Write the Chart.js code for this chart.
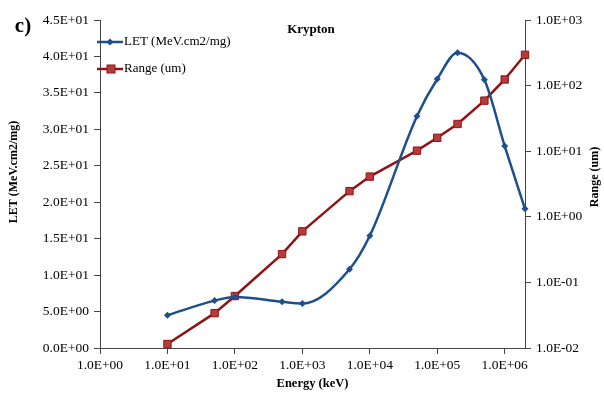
<!DOCTYPE html>
<html>
<head>
<meta charset="utf-8">
<script src="https://cdn.jsdelivr.net/npm/chart.js@4/dist/chart.umd.min.js"></script>
<style>
  html, body { margin: 0; padding: 0; background: #fff; }
  #wrap { width: 604px; height: 396px; }
</style>
</head>
<body>
<div id="wrap"><canvas id="myChart" width="604" height="396"></canvas></div>
<script>
// energy in keV
var energy = [10, 50, 100, 500, 1000, 5000, 10000, 50000, 100000, 200000, 500000, 1000000, 2000000];
// LET (MeV.cm2/mg)
var letValues = [4.5, 6.5, 7.0, 6.35, 6.1, 10.8, 15.4, 31.8, 36.9, 40.5, 36.8, 27.7, 19.1];
// Range (um)
var rangeValues = [0.0115, 0.034, 0.062, 0.27, 0.6, 2.46, 4.1, 10.2, 16, 26, 59, 124, 295];

var xTicks = [1, 10, 100, 1000, 10000, 100000, 1000000];
var rangeTicks = [0.01, 0.1, 1, 10, 100, 1000];

var serif = "'Liberation Serif', 'DejaVu Serif', serif";
var blue = '#1c4f8c';
var darkRed = '#8e1414';

function sci(v) {
    var parts = Number(v).toExponential(1).split('e');
    var n = parseInt(parts[1], 10);
    return parts[0] + 'E' + (n < 0 ? '-' : '+') + String(Math.abs(n)).padStart(2, '0');
}

function pts(ys) {
    return energy.map(function(x, i) { return { x: x, y: ys[i] }; });
}

var extras = {
    id: 'extras',
    afterDraw: function(chart) {
        var c = chart.ctx;
        c.save();
        c.fillStyle = '#000';
        c.textAlign = 'center';
        c.textBaseline = 'middle';

        c.font = 'bold 21px ' + serif;
        c.fillText('c)', 23, 27);

        c.font = 'bold 13px ' + serif;
        c.fillText('Krypton', 311, 30);

        // y axis titles
        c.font = 'bold 12px ' + serif;
        c.save();
        c.translate(14, 172);
        c.rotate(-Math.PI / 2);
        c.fillText('LET (MeV.cm2/mg)', 0, 0);
        c.restore();
        c.save();
        c.translate(595, 177);
        c.rotate(-Math.PI / 2);
        c.fillText('Range (um)', 0, 0);
        c.restore();

        // legend
        c.textAlign = 'left';
        c.font = '13px ' + serif;
        c.lineWidth = 2.5;
        c.strokeStyle = blue;
        c.beginPath(); c.moveTo(97, 42); c.lineTo(123, 42); c.stroke();
        c.fillStyle = blue;
        c.beginPath(); c.moveTo(110, 38.5); c.lineTo(113.5, 42); c.lineTo(110, 45.5); c.lineTo(106.5, 42); c.closePath(); c.fill();
        c.fillStyle = '#000';
        c.fillText('LET (MeV.cm2/mg)', 124, 42);

        c.strokeStyle = darkRed;
        c.beginPath(); c.moveTo(97, 69); c.lineTo(123, 69); c.stroke();
        c.fillStyle = '#b83a3a';
        c.fillRect(107, 65, 8, 8);
        c.lineWidth = 1;
        c.strokeStyle = darkRed;
        c.strokeRect(107, 65, 8, 8);
        c.fillStyle = '#000';
        c.fillText('Range (um)', 124, 69);
        c.restore();
    }
};

var ctx = document.getElementById('myChart');

var myChart = new Chart(ctx, {
    type: 'line',
    data: {
        datasets: [{
            label: 'LET (MeV.cm2/mg)',
            data: pts(letValues),
            yAxisID: 'y',
            borderColor: blue,
            backgroundColor: blue,
            borderWidth: 2.5,
            cubicInterpolationMode: 'monotone',
            pointStyle: 'rectRot',
            pointRadius: 3.5,
            pointBorderWidth: 0,
            clip: false
        }, {
            label: 'Range (um)',
            data: pts(rangeValues),
            yAxisID: 'y2',
            borderColor: darkRed,
            backgroundColor: '#b83a3a',
            borderWidth: 2.5,
            tension: 0,
            pointStyle: 'rect',
            pointRadius: 5.2,
            pointBorderColor: darkRed,
            pointBorderWidth: 1,
            clip: false
        }]
    },
    options: {
        responsive: false,
        animation: false,
        layout: { padding: { top: 20, left: 0, right: 0, bottom: 0 } },
        plugins: {
            legend: { display: false },
            tooltip: { enabled: false }
        },
        scales: {
            x: {
                type: 'logarithmic',
                position: 'bottom',
                min: 1,
                max: 2000000,
                afterBuildTicks: function(scale) {
                    scale.ticks = xTicks.map(function(v) { return { value: v }; });
                },
                afterFit: function(scale) { scale.height = 48; },
                grid: { drawOnChartArea: false, tickLength: 6, color: '#444' },
                border: { color: '#444', width: 1 },
                ticks: {
                    color: '#000',
                    padding: 3,
                    maxRotation: 0,
                    autoSkip: false,
                    font: { family: serif, size: 13.5 },
                    callback: function(v) { return sci(v); }
                },
                title: {
                    display: true,
                    text: 'Energy (keV)',
                    color: '#000',
                    font: { family: serif, size: 12.5, weight: 'bold' },
                    padding: { top: 0, bottom: 5 }
                }
            },
            y: {
                type: 'linear',
                position: 'left',
                min: 0,
                max: 45,
                afterFit: function(scale) { scale.width = 100; },
                grid: { drawOnChartArea: false, tickLength: 6, color: '#444' },
                border: { color: '#444', width: 1 },
                ticks: {
                    stepSize: 5,
                    color: '#000',
                    padding: 5,
                    font: { family: serif, size: 13.5 },
                    callback: function(v) { return sci(v); }
                }
            },
            y2: {
                type: 'logarithmic',
                position: 'right',
                min: 0.01,
                max: 1000,
                afterBuildTicks: function(scale) {
                    scale.ticks = rangeTicks.map(function(v) { return { value: v }; });
                },
                afterFit: function(scale) { scale.width = 79; },
                grid: { drawOnChartArea: false, tickLength: 6, color: '#444' },
                border: { color: '#444', width: 1 },
                ticks: {
                    color: '#000',
                    padding: 5,
                    autoSkip: false,
                    font: { family: serif, size: 13.5 },
                    callback: function(v) { return sci(v); }
                }
            }
        }
    },
    plugins: [extras]
});
</script>
</body>
</html>
